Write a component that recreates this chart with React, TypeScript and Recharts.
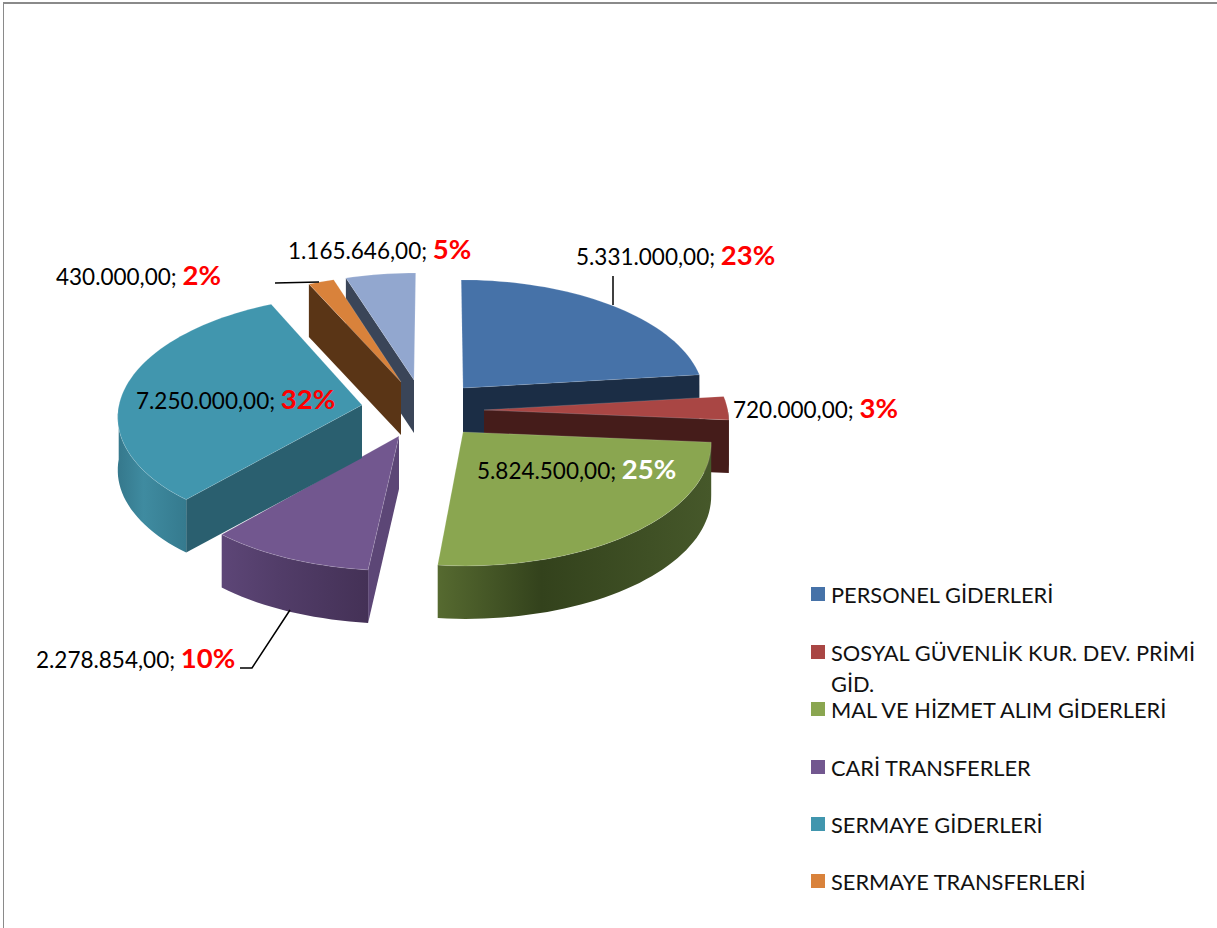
import { Legend, Pie, PieChart } from 'recharts'

const NAMES = [
  'PERSONEL GİDERLERİ',
  'SOSYAL GÜVENLİK KUR. DEV. PRİMİ GİD.',
  'MAL VE HİZMET ALIM GİDERLERİ',
  'CARİ TRANSFERLER',
  'SERMAYE GİDERLERİ',
  'SERMAYE TRANSFERLERİ',
  '',
]
const VALUES = [5331000, 720000, 5824500, 2278854, 7250000, 430000, 1165646]

const TOP_COLORS = ['#4672a8', '#a94644', '#8aa650', '#72578f', '#4196ae', '#d9823b', '#92a7cf']
const FACE_COLORS = ['#1b2d45', '#451c1a', '#3a4a1e', '#5c4676', '#2a5f6f', '#5a3516', '#3a4558']
const WALL_STOPS = [
  ['#1b2d45', '#1b2d45', '#1b2d45'],
  ['#451c1a', '#451c1a', '#451c1a'],
  ['#566a30', '#33421c', '#46582a'],
  ['#5d4677', '#523d69', '#443156'],
  ['#35788c', '#3f8ba0', '#357a8e'],
  ['#5a3516', '#5a3516', '#5a3516'],
  ['#3a4558', '#3a4558', '#3a4558'],
]
// where each slice's tip sits on screen, relative to the pie centre
const EXPLODE = [
  [25, -17],
  [46, 5],
  [25, 27],
  [-39, 31],
  [-76, 0],
  [-37, -23],
  [-24, -25],
]
const LABEL_POS = [
  [576, 265],
  [733, 418],
  [477, 479],
  [36, 668],
  [136, 409],
  [56, 285],
  [288, 259],
]
const LEADERS = [
  '613,276 613,305',
  '',
  '',
  '240,668 252,668 290,610',
  '',
  '275,283 319,282',
  '',
]
const LEGEND_TOPS = [594, 652, 709, 767, 824, 881]
// the last slice sits behind its neighbour, so it gets painted first
const BACK_SLICE = 6

const CX = 438
const CY = 405
const RADIUS = 243
const DEPTH = 53
const COS = 0.49
const K = 0.00032

const chartData = VALUES.map((value, i) => ({ name: NAMES[i], value }))

const project = (u: number, v: number) => {
  const s = 1 / (1 - v * K)
  return { x: CX + u * s, y: CY + v * COS * s }
}

const unproject = (dx: number, dy: number) => {
  const v = dy / (COS + dy * K)
  return { u: dx * (1 - v * K), v }
}

const pt = (p: { x: number; y: number }, drop = 0) =>
  `${p.x.toFixed(1)},${(p.y + drop * DEPTH).toFixed(1)}`

function Slice(props: any) {
  const { index, startAngle, endAngle, outerRadius } = props
  const tip = unproject(EXPLODE[index][0], EXPLODE[index][1])
  const rimAt = (deg: number) => {
    const r = (deg * Math.PI) / 180
    return project(tip.u + outerRadius * Math.cos(r), tip.v - outerRadius * Math.sin(r))
  }
  const steps = Math.max(2, Math.ceil(Math.abs(endAngle - startAngle) / 2))
  const angles = Array.from(
    { length: steps + 1 },
    (_, i) => startAngle + ((endAngle - startAngle) * i) / steps,
  )
  const rim = angles.map(rimAt)
  // only the front half of the rim shows a wall
  const wallRim = angles.filter((deg) => Math.sin((deg * Math.PI) / 180) <= 0.02).map(rimAt)
  const apex = project(tip.u, tip.v)
  const mid = ((startAngle + endAngle) / 2) * (Math.PI / 180)
  const midDir = [Math.cos(mid), -Math.sin(mid)]

  const faces = [startAngle, endAngle].filter((deg) => {
    const r = (deg * Math.PI) / 180
    let n = [Math.sin(r), Math.cos(r)]
    if (n[0] * midDir[0] + n[1] * midDir[1] > 0) n = [-n[0], -n[1]]
    return n[1] > 0
  })

  const id = `wall-${index}`
  return (
    <g>
      <defs>
        <linearGradient id={id} x1="0" y1="0" x2="1" y2="0">
          <stop offset="0%" stopColor={WALL_STOPS[index][0]} />
          <stop offset="38%" stopColor={WALL_STOPS[index][1]} />
          <stop offset="100%" stopColor={WALL_STOPS[index][2]} />
        </linearGradient>
      </defs>
      {faces.map((deg) => {
        const end = rimAt(deg)
        return (
          <polygon
            key={deg}
            points={`${pt(apex)} ${pt(end)} ${pt(end, 1)} ${pt(apex, 1)}`}
            fill={FACE_COLORS[index]}
          />
        )
      })}
      {wallRim.length > 1 && (
        <polygon
          points={[...wallRim.map((p) => pt(p)), ...[...wallRim].reverse().map((p) => pt(p, 1))].join(' ')}
          fill={`url(#${id})`}
        />
      )}
      <polygon
        points={[pt(apex), ...rim.map((p) => pt(p))].join(' ')}
        fill={TOP_COLORS[index]}
        stroke="#ffffff"
        strokeOpacity={0.2}
        strokeWidth={0.8}
      />
    </g>
  )
}

const BackSlice = (props: any) => (props.index === BACK_SLICE ? <Slice {...props} /> : <g />)
const FrontSlices = (props: any) => (props.index === BACK_SLICE ? <g /> : <Slice {...props} />)

const money = (v: number) =>
  v.toLocaleString('tr-TR', { minimumFractionDigits: 2, maximumFractionDigits: 2 })

function SliceLabel(props: any) {
  const { index, value, percent } = props
  const [x, y] = LABEL_POS[index]
  return (
    <g>
      {LEADERS[index] && (
        <polyline points={LEADERS[index]} fill="none" stroke="#000000" strokeWidth={1.5} />
      )}
      <text x={x} y={y} fontFamily="Lato, sans-serif" fontSize={22.5} fill="#000000">
        {money(value)};{' '}
        <tspan fontWeight={700} fontSize={27.5} fill={index === 2 ? '#ffffff' : '#ff0000'}>
          {Math.round(percent * 100)}%
        </tspan>
      </text>
    </g>
  )
}

function LegendBox() {
  return (
    <div style={{ position: 'relative', fontFamily: 'Lato, sans-serif', fontSize: 21.8, color: '#111111' }}>
      {LEGEND_TOPS.map((top, i) => (
        <div key={i} style={{ position: 'absolute', left: 0, top: top - 594, width: 380, lineHeight: '31px' }}>
          <span
            style={{
              position: 'absolute',
              left: 0,
              top: 8,
              width: 14,
              height: 14,
              background: TOP_COLORS[i],
            }}
          />
          <span style={{ position: 'absolute', left: 20, top: 0, width: 372 }}>{NAMES[i]}</span>
        </div>
      ))}
    </div>
  )
}

export default function App() {
  return (
    <div style={{ position: 'absolute', left: 0, top: 0, width: 1217, height: 928, overflow: 'hidden', background: '#ffffff' }}>
      <div style={{ position: 'absolute', left: 3, top: 2, right: 0, height: 2, background: '#8a8a8a' }} />
      <div style={{ position: 'absolute', left: 3, top: 2, bottom: 0, width: 1, background: '#8a8a8a' }} />
      <PieChart width={1217} height={928} margin={{ top: 0, right: 0, bottom: 0, left: 0 }}>
        <Pie
          data={chartData}
          dataKey="value"
          nameKey="name"
          cx={CX}
          cy={CY}
          outerRadius={RADIUS}
          startAngle={90}
          endAngle={-270}
          isAnimationActive={false}
          shape={BackSlice}
          legendType="none"
        />
        <Pie
          data={chartData}
          dataKey="value"
          nameKey="name"
          cx={CX}
          cy={CY}
          outerRadius={RADIUS}
          startAngle={90}
          endAngle={-270}
          isAnimationActive={false}
          shape={FrontSlices}
          label={SliceLabel}
          labelLine={false}
        />
        <Legend
          content={LegendBox}
          wrapperStyle={{ position: 'absolute', left: 811, top: 579, width: 400, height: 340 }}
        />
      </PieChart>
    </div>
  )
}
